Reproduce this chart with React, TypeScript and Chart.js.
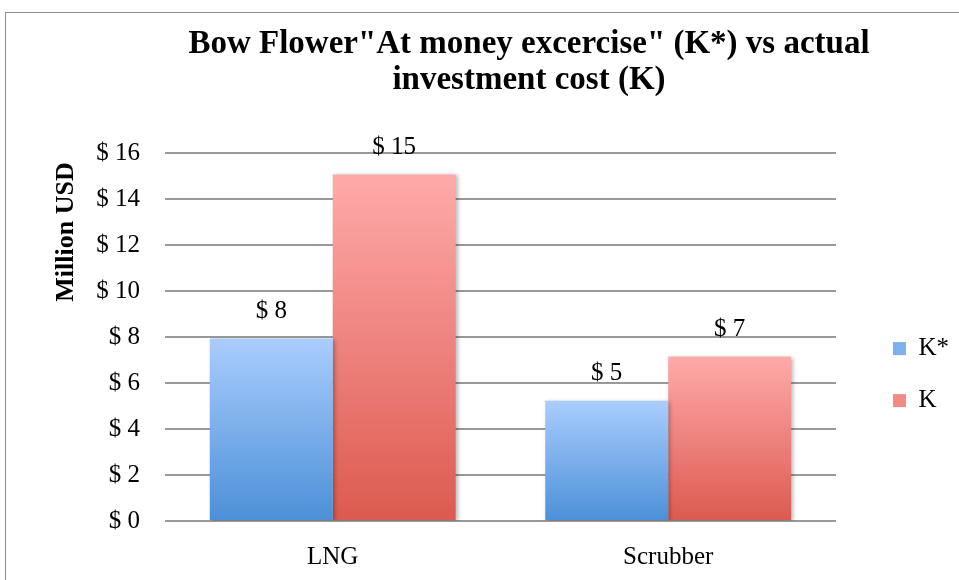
import React, { useEffect, useRef } from "react";
import { Chart, registerables } from "chart.js";

Chart.register(...registerables);

const titleLines = ['Bow Flower"At money excercise" (K*) vs actual', "investment cost (K)"];
const categories = ["LNG", "Scrubber"];
const seriesNames = ["K*", "K"];
const kStarValues = [7.93, 5.23];
const kValues = [15.07, 7.15];
const yMin = 0;
const yMax = 16;
const yStep = 2;
const yAxisTitle = "Million USD";

const FONT = "'Liberation Serif', 'Times New Roman', serif";
const BLUE_TOP = "#aacdfd";
const BLUE_BOTTOM = "#4b90d8";
const RED_TOP = "#ffaaaa";
const RED_BOTTOM = "#dc5a4f";

function barGradient(top: string, bottom: string) {
  return (c: any) => {
    const chart = c.chart;
    const { ctx, chartArea, scales } = chart;
    if (!chartArea || c.type !== "data" || !scales.y) return bottom;
    const yTop = scales.y.getPixelForValue(c.parsed.y);
    const yBase = scales.y.getPixelForValue(0);
    if (!isFinite(yTop) || !isFinite(yBase) || yTop === yBase) return bottom;
    const g = ctx.createLinearGradient(0, yTop, 0, yBase);
    g.addColorStop(0, top);
    g.addColorStop(1, bottom);
    return g;
  };
}

const shadowPlugin = {
  id: "barShadow",
  beforeDatasetsDraw(chart: any) {
    const ctx = chart.ctx;
    ctx.save();
    ctx.shadowColor = "rgba(0,0,0,0.28)";
    ctx.shadowBlur = 4;
    ctx.shadowOffsetX = 2;
    ctx.shadowOffsetY = 1;
  },
  afterDatasetsDraw(chart: any) {
    chart.ctx.restore();
  },
};

const valueLabelPlugin = {
  id: "valueLabels",
  afterDatasetsDraw(chart: any) {
    const ctx = chart.ctx;
    ctx.save();
    ctx.font = `25px ${FONT}`;
    ctx.fillStyle = "#000";
    ctx.textAlign = "center";
    ctx.textBaseline = "middle";
    chart.data.datasets.forEach((ds: any, i: number) => {
      const meta = chart.getDatasetMeta(i);
      meta.data.forEach((el: any, j: number) => {
        ctx.fillText("$ " + Math.round(ds.data[j]), el.x, el.y - 27);
      });
    });
    ctx.restore();
  },
};

const titlePlugin = {
  id: "twoLineTitle",
  afterDraw(chart: any) {
    const ctx = chart.ctx;
    ctx.save();
    ctx.font = `bold 33px ${FONT}`;
    ctx.fillStyle = "#000";
    ctx.textAlign = "center";
    ctx.textBaseline = "middle";
    const cx = 529;
    titleLines.forEach((line, i) => {
      ctx.fillText(line, cx, 44 + i * 36);
    });
    // rotated y-axis title
    ctx.font = `bold 26px ${FONT}`;
    ctx.translate(66, 232);
    ctx.rotate(-Math.PI / 2);
    ctx.fillText(yAxisTitle, 0, 0);
    ctx.restore();
  },
};

export default function App() {
  const canvasRef = useRef<HTMLCanvasElement | null>(null);

  useEffect(() => {
    document.body.style.margin = "0";
    document.body.style.overflow = "hidden";
    const canvas = canvasRef.current;
    if (!canvas) return;
    const chart = new Chart(canvas, {
      type: "bar",
      data: {
        labels: categories,
        datasets: [
          {
            label: seriesNames[0],
            data: kStarValues,
            backgroundColor: barGradient(BLUE_TOP, BLUE_BOTTOM) as any,
            borderWidth: 0,
            categoryPercentage: 0.733,
            barPercentage: 1,
          },
          {
            label: seriesNames[1],
            data: kValues,
            backgroundColor: barGradient(RED_TOP, RED_BOTTOM) as any,
            borderWidth: 0,
            categoryPercentage: 0.733,
            barPercentage: 1,
          },
        ],
      },
      options: {
        animation: false,
        responsive: false,
        maintainAspectRatio: false,
        devicePixelRatio: 1,
        layout: { padding: { top: 153, left: 20, right: 0, bottom: 8 } },
        plugins: {
          title: { display: false },
          tooltip: { enabled: false },
          legend: {
            display: true,
            position: "right",
            align: "center",
            title: { display: true, text: "", font: { size: 1 }, padding: { top: 23, bottom: 0 } },
            labels: {
              font: { family: FONT, size: 25 },
              color: "#000",
              boxWidth: 13,
              boxHeight: 13,
              padding: 27,
              generateLabels: () =>
                [
                  { text: seriesNames[0], fillStyle: "#7db0ec", strokeStyle: "#7db0ec", fontColor: "#000", lineWidth: 0, datasetIndex: 0, hidden: false },
                  { text: seriesNames[1], fillStyle: "#f08b85", strokeStyle: "#f08b85", fontColor: "#000", lineWidth: 0, datasetIndex: 1, hidden: false },
                ] as any,
            },
          },
        },
        scales: {
          x: {
            grid: { display: false, drawTicks: false },
            border: { display: false },
            ticks: { font: { family: FONT, size: 25 }, color: "#000", padding: 21 },
            afterFit: (s: any) => {
              s.height = 51;
            },
          },
          y: {
            min: yMin,
            max: yMax,
            grid: { color: "#999999", lineWidth: 2, drawTicks: false },
            border: { display: false },
            ticks: {
              stepSize: yStep,
              font: { family: FONT, size: 25 },
              color: "#000",
              padding: 25,
              callback: (v: any) => "$ " + v,
            },
            title: { display: false },
            afterFit: (s: any) => {
              s.width = 145;
            },
          },
          yPad: {
            type: "linear",
            position: "right",
            display: true,
            grid: { display: false, drawTicks: false },
            border: { display: false },
            ticks: { display: false },
            afterFit: (s: any) => {
              s.width = 30;
            },
          },
        },
      },
      plugins: [shadowPlugin, valueLabelPlugin, titlePlugin],
    });
    return () => chart.destroy();
  }, []);

  return (
    <div style={{ position: "relative", width: 959, height: 580, overflow: "hidden", background: "#fff" }}>
      <div
        style={{
          position: "absolute",
          left: 5,
          top: 12,
          width: 1100,
          height: 700,
          border: "1px solid #8c8c8c",
          boxSizing: "border-box",
        }}
      />
      <canvas ref={canvasRef} width={959} height={580} style={{ position: "absolute", left: 0, top: 0 }} />
    </div>
  );
}
